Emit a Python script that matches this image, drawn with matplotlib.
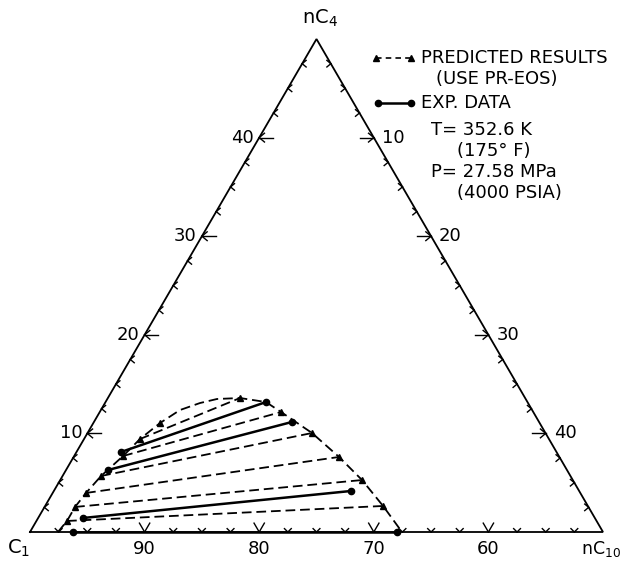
import numpy as np
import matplotlib
matplotlib.use("Agg")
import matplotlib.pyplot as plt

plt.rcParams['font.family'] = ['DejaVu Sans']
plt.rcParams['lines.scale_dashes'] = False

# compositions in mole % (nC4, nC10); C1 = 100 - nC4 - nC10
# predicted phase envelope (PR-EOS), from C1-rich side over the top to the nC10-rich side
env_c4 = [0.0, 1.12, 2.54, 3.96, 5.68, 7.71, 9.43, 11.05, 12.37, 13.08, 13.49, 13.59,
          13.18, 12.17, 10.04, 7.61, 5.27, 2.64, 0.0]
env_c10 = [2.44, 2.67, 2.66, 2.91, 3.36, 4.27, 4.88, 5.82, 6.90, 8.29, 9.57, 11.53,
           14.0, 15.82, 19.59, 23.16, 26.34, 29.49, 32.46]

# predicted tie lines
pred_vap_c4 = [1.12, 2.54, 3.96, 5.68, 7.71, 9.43]
pred_vap_c10 = [2.67, 2.66, 2.91, 3.36, 4.27, 4.88]
pred_liq_c4 = [2.64, 5.27, 7.61, 10.04, 12.17, 13.59]
pred_liq_c10 = [29.49, 26.34, 23.16, 19.59, 15.82, 11.53]
pred_extra_c4 = [11.05]
pred_extra_c10 = [5.82]

# experimental tie lines
exp_vap_c4 = [0.0, 1.42, 6.29, 8.11]
exp_vap_c10 = [3.75, 3.91, 3.67, 3.88]
exp_liq_c4 = [0.0, 4.16, 11.16, 13.18]
exp_liq_c10 = [32.02, 25.93, 17.28, 14.0]

major_ticks = [10, 20, 30, 40]
minor_ticks = np.arange(2.5, 50, 2.5)

S3 = np.sqrt(3) / 2


def tern(c4, c10):
    c4 = np.asarray(c4, dtype=float)
    c10 = np.asarray(c10, dtype=float)
    return c10 + c4 / 2, c4 * S3


fig = plt.figure(figsize=(6.25, 5.63), dpi=100)
ax = fig.add_axes([0, 0, 1, 1])
XL = (-2.618, 51.92)
YL = (-2.723, 46.73)
ax.set_xlim(*XL)
ax.set_ylim(*YL)
ax.axis('off')


def px(x, y):
    # pixel position -> data coords (for legend decorations)
    return XL[0] + x / 625 * (XL[1] - XL[0]), YL[1] - y / 563 * (YL[1] - YL[0])


# triangle frame: C1 (100%), nC4 corner (50/50), nC10 corner (50/50)
fx, fy = tern([0, 50, 0, 0], [0, 0, 50, 0])
ax.plot(fx, fy, color='black', lw=1.3, solid_joinstyle='miter')


def chevron(x, y, d, size, ang):
    d = np.asarray(d, float)
    for s in (1, -1):
        a = np.deg2rad(s * ang)
        r = np.array([[np.cos(a), -np.sin(a)], [np.sin(a), np.cos(a)]])
        e = -r @ d * size
        ax.plot([x, x + e[0]], [y, y + e[1]], color='black', lw=1.0)


for v in minor_ticks:
    major = any(abs(v - m) < 1e-6 for m in major_ticks)
    # left edge (nC4)
    x, y = tern(v, 0)
    if major:
        chevron(x, y, (-1, 0), 0.6, 40)
        ax.plot([x, x + 1.2], [y, y], color='black', lw=1.0)
        ax.text(x - 0.45, y, f'{v:g}', ha='right', va='center', fontsize=13)
    else:
        chevron(x, y, (-1, 0), 0.45, 40)
    # right edge (nC10)
    x, y = tern(50 - v, v)
    if major:
        chevron(x, y, (1, 0), 0.6, 40)
        ax.plot([x - 1.2, x], [y, y], color='black', lw=1.0)
        ax.text(x + 0.7, y, f'{v:g}', ha='left', va='center', fontsize=13)
    else:
        chevron(x, y, (1, 0), 0.45, 40)
    # bottom edge (C1)
    x, y = tern(0, v)
    if major:
        chevron(x, y, (0, -1), 0.9, 30)
        ax.text(x, y - 1.45, f'{100 - v:g}', ha='center', va='center', fontsize=13)
    else:
        chevron(x, y, (0, -1), 0.42, 45)

dash = (0, (7, 3.5))

# predicted envelope
ex, ey = tern(env_c4, env_c10)
ax.plot(ex, ey, color='black', lw=1.3, linestyle=dash)

# predicted tie lines
for a4, a10, b4, b10 in zip(pred_vap_c4, pred_vap_c10, pred_liq_c4, pred_liq_c10):
    tx, ty = tern([a4, b4], [a10, b10])
    ax.plot(tx, ty, color='black', lw=1.3, linestyle=dash,
            marker='^', markersize=4, markerfacecolor='black')
mx, my = tern(pred_extra_c4, pred_extra_c10)
ax.plot(mx, my, linestyle='none', marker='^', markersize=4, color='black')

# experimental tie lines
for a4, a10, b4, b10 in zip(exp_vap_c4, exp_vap_c10, exp_liq_c4, exp_liq_c10):
    tx, ty = tern([a4, b4], [a10, b10])
    ax.plot(tx, ty, color='black', lw=1.8, marker='o', markersize=4.5)

# corner labels
fig.text(7 / 625, 1 - 548 / 563, r'C$_{\mathregular{1}}$', fontsize=14, ha='left', va='center')
fig.text(621 / 625, 1 - 549 / 563, r'nC$_{\mathregular{10}}$', fontsize=12.5, ha='right', va='center')
fig.text(302 / 625, 1 - 18 / 563, r'nC$_{\mathregular{4}}$', fontsize=14, ha='left', va='center')

# legend block
lx, ly = px(376, 58)
rx, _ = px(411, 58)
ax.plot([lx, rx], [ly, ly], color='black', lw=1.2, linestyle=(0, (4, 3)),
        marker='^', markersize=4)
lx, ly = px(378, 103)
rx, _ = px(411, 103)
ax.plot([lx, rx], [ly, ly], color='black', lw=1.8, marker='o', markersize=4.5)

legend_lines = [
    (421, 58, 'PREDICTED RESULTS'),
    (436, 79, '(USE PR-EOS)'),
    (421, 103, 'EXP. DATA'),
    (431, 130, 'T= 352.6 K'),
    (457, 151, '(175\u00b0 F)'),
    (431, 172, 'P= 27.58 MPa'),
    (457, 193, '(4000 PSIA)'),
]
for tx, ty, s in legend_lines:
    fig.text(tx / 625, 1 - ty / 563, s, fontsize=13, ha='left', va='center')

fig.savefig('out.png', dpi=100)
